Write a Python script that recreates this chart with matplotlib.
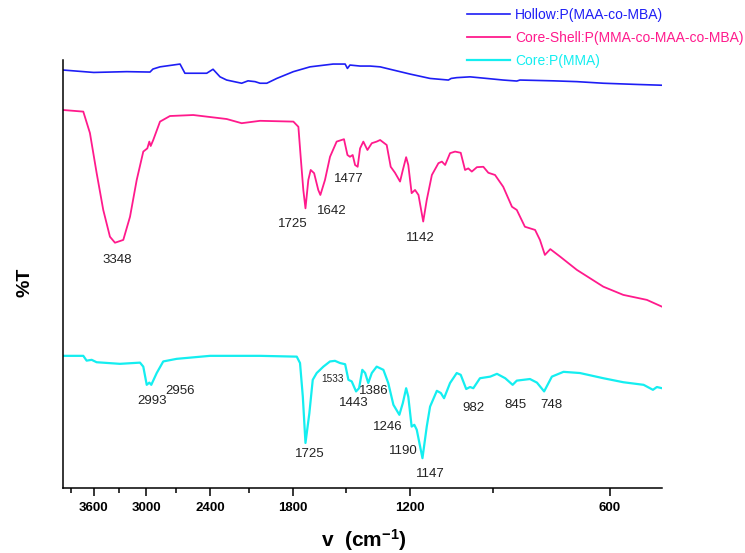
import matplotlib
matplotlib.use("Agg")

import numpy as np
import matplotlib.pyplot as plt
from matplotlib.ticker import FixedLocator, NullFormatter

plt.rcParams['font.family'] = ['Liberation Sans', 'DejaVu Sans']
plt.rcParams['mathtext.default'] = 'regular'

# Hollow: P(MAA-co-MBA)
hollow_wn = [4000, 3600, 3210, 2960, 2930, 2859, 2667, 2622, 2431, 2378, 2321, 2268,
             2153, 2106, 2055, 2020, 1973, 1906, 1799, 1698, 1567, 1503, 1491, 1478,
             1427, 1378, 1331, 1286, 1200, 1119, 1050, 1040, 1020, 974, 919, 868, 828,
             819, 729, 672, 613, 546, 500]
hollow_t = [104.5, 103.9, 104.1, 104.0, 104.75, 105.3, 106.0, 103.7, 103.7, 104.7, 102.8, 102.0,
            101.2, 101.8, 101.6, 101.2, 101.2, 102.4, 104.1, 105.3, 106.0, 106.0, 104.9, 105.75,
            105.5, 105.5, 105.3, 104.7, 103.5, 102.4, 102.0, 102.4, 102.6, 102.8, 102.4, 102.0, 101.75,
            102.0, 101.8, 101.6, 101.2, 100.9, 100.7]

# Core-Shell: P(MMA-co-MAA-co-MBA)
shell_wn = [4000, 3732, 3647, 3563, 3482, 3402, 3343, 3248, 3173, 3100, 3030, 2988, 2967,
            2953, 2927, 2859, 2762, 2547, 2268, 2153, 2020, 1799, 1768, 1754, 1738, 1725,
            1708, 1694, 1674, 1650, 1638, 1612, 1584, 1548, 1509, 1491, 1478, 1464, 1452,
            1439, 1427, 1411, 1391, 1370, 1347, 1331, 1301, 1283, 1264, 1242, 1230, 1216,
            1207, 1193, 1179, 1165, 1146, 1132, 1112, 1087, 1074, 1062, 1044, 1026, 1006,
            991, 980, 968, 951, 930, 914, 893, 868, 842, 828, 805, 777, 764, 751, 737, 712,
            672, 613, 572, 527, 500]
shell_t = [94.5, 94.1, 88.75, 78.75, 69.5, 62.8, 61.3, 62.0, 67.8, 77.0, 84.1, 84.9, 86.6,
           85.5, 87.0, 91.6, 93.0, 93.25, 92.25, 91.2, 91.8, 91.6, 90.3, 82.8, 74.5, 69.9,
           77.0, 79.5, 78.7, 74.5, 73.25, 77.0, 82.8, 86.6, 87.2, 83.25, 82.8, 83.25, 80.75,
           80.3, 84.9, 86.6, 84.5, 86.2, 86.6, 87.0, 85.75, 80.3, 78.8, 76.6, 79.5, 82.7,
           80.75, 73.7, 74.5, 73.25, 66.6, 72.0, 78.25, 81.2, 81.6, 80.75, 83.7, 84.1, 83.8,
           79.5, 79.9, 79.1, 80.2, 80.3, 78.8, 78.25, 75.3, 70.3, 69.5, 65.3, 64.5, 62.0, 58.25, 59.7, 57.8,
           54.5, 50.3, 48.25, 47.0, 45.3]

# Core: P(MMA)
core_wn = [4000, 3732, 3689, 3625, 3563, 3286, 3065, 3030, 2994, 2967, 2947, 2892, 2827,
           2698, 2403, 2020, 1778, 1758, 1741, 1725, 1702, 1682, 1659, 1621, 1584, 1557,
           1530, 1503, 1486, 1469, 1447, 1432, 1416, 1402, 1387, 1370, 1347, 1316, 1294,
           1271, 1245, 1230, 1216, 1207, 1193, 1182, 1172, 1149, 1132, 1119, 1093, 1078,
           1066, 1044, 1020, 1006, 987, 974, 963, 941, 908, 887, 862, 840, 828, 791, 772,
           753, 733, 704, 665, 613, 572, 533, 516, 509, 500]
core_t = [33.0, 33.0, 31.8, 32.0, 31.4, 31.0, 31.3, 30.3, 25.75, 26.3, 25.75, 28.7, 31.6,
          32.25, 33.0, 33.0, 32.8, 31.2, 22.8, 11.2, 18.6, 27.0, 28.7, 30.3, 31.6, 31.75,
          31.2, 30.9, 27.0, 26.6, 24.1, 24.9, 29.5, 28.7, 26.2, 28.7, 30.3, 29.5, 26.2,
          20.75, 18.25, 21.2, 24.9, 22.8, 15.3, 15.75, 14.5, 7.4, 15.3, 20.3, 24.25, 23.7,
          22.4, 26.2, 28.7, 28.25, 24.7, 25.2, 24.9, 27.4, 27.8, 28.5, 27.4, 25.75, 26.8, 27.2, 26.3,
          24.1, 27.8, 29.0, 28.7, 27.4, 26.4, 25.75, 24.5, 25.2, 24.9]

series_names = ["Hollow:P(MAA-co-MBA)", "Core-Shell:P(MMA-co-MAA-co-MBA)", "Core:P(MMA)"]
colors = ["#1e1ef5", "#ff1a8c", "#14eef0"]

# peak labels: (text, wavenumber, %T) for text centre
peak_text = ["3348", "1725", "1642", "1477", "1142",
             "2993", "2956", "1725", "1443", "1386", "1246", "1190", "1147", "982", "845", "748"]
peak_wn = [3323, 1803, 1575, 1486, 1156,
           2943, 2667, 1698, 1461, 1359, 1294, 1228, 1119, 963, 831, 733]
peak_t = [57.0, 65.9, 69.3, 77.2, 62.6,
          21.75, 24.25, 8.4, 21.2, 24.25, 15.3, 9.1, 3.5, 19.9, 20.75, 20.75]
small_text, small_wn, small_t = "1533", 1569, 27.25

major_ticks = [3600, 3000, 2400, 1800, 1200, 600]
minor_ticks = [3900, 3300, 2700, 2100, 1500, 900]

fig = plt.figure(figsize=(7.45, 5.53), dpi=100)
ax = fig.add_axes([0.085, 0.118, 0.8036, 0.7734])

ax.plot(hollow_wn, hollow_t, color=colors[0], lw=1.2, label=series_names[0])
ax.plot(shell_wn, shell_t, color=colors[1], lw=1.3, label=series_names[1])
ax.plot(core_wn, core_t, color=colors[2], lw=1.6, label=series_names[2])

for txt, xw, yt in zip(peak_text, peak_wn, peak_t):
    ax.text(xw, yt, txt, fontsize=9.5, color="#222222", ha="center", va="center")
ax.text(small_wn, small_t, small_text, fontsize=7.2, color="#222222", ha="center", va="center")

ax.set_xscale("log")
ax.set_xlim(4000, 500)
ax.set_ylim(0, 107)
ax.xaxis.set_major_locator(FixedLocator(major_ticks))
ax.xaxis.set_minor_locator(FixedLocator(minor_ticks))
ax.xaxis.set_minor_formatter(NullFormatter())
ax.set_xticklabels([str(t) for t in major_ticks], fontweight="bold", fontsize=9.5)
ax.tick_params(axis="x", which="major", length=6, width=1.1, direction="out", pad=4)
ax.tick_params(axis="x", which="minor", length=3.5, width=1.1, direction="out")
ax.set_yticks([])

for s in ["top", "right"]:
    ax.spines[s].set_visible(False)
for s in ["left", "bottom"]:
    ax.spines[s].set_linewidth(1.1)

fig.text(25 / 745, 1 - 282 / 553, "%T", rotation=90, fontsize=14, fontweight="bold",
         ha="center", va="center")
fig.text(364 / 745, 1 - 540 / 553, "v  (cm$^{-1}$)", fontsize=15, fontweight="bold",
         ha="center", va="center")

leg = ax.legend(loc="upper left", bbox_to_anchor=(0.6264, 0.985), bbox_transform=fig.transFigure,
                frameon=False, fontsize=10, handlelength=3.1, handletextpad=0.4,
                labelspacing=0.62, borderpad=0, borderaxespad=0, labelcolor="linecolor")

fig.savefig("out.png", dpi=100)
